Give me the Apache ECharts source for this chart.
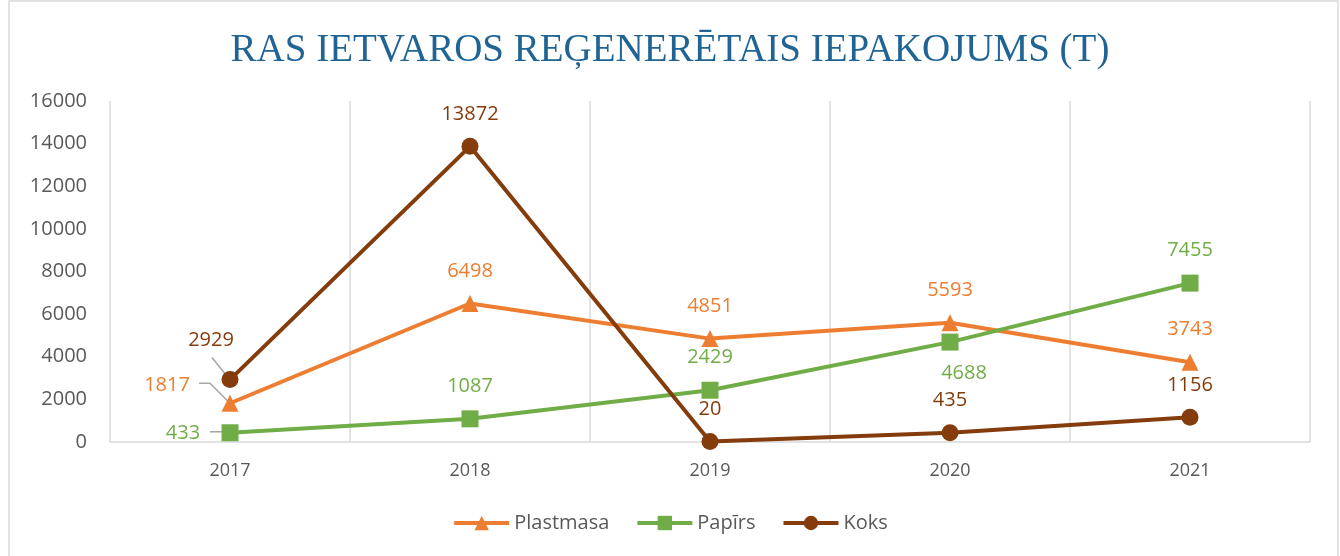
<!DOCTYPE html>
<html>
<head>
<meta charset="utf-8">
<style type="text/css">
    body { margin: 0; background: #fff; }
    #chart { width: 1340px; height: 556px; }
</style>
</head>
<body>
<div id="chart"></div>
<script src="https://cdn.jsdelivr.net/npm/echarts@6/dist/echarts.min.js"></script>
<script>

const years = ['2017', '2018', '2019', '2020', '2021'];
const plastmasa = [1817, 6498, 4851, 5593, 3743];
const papirs = [433, 1087, 2429, 4688, 7455];
const koks = [2929, 13872, 20, 435, 1156];
const yTicks = [0, 2000, 4000, 6000, 8000, 10000, 12000, 14000, 16000];

let chart = echarts.init(document.getElementById('chart'));

const font = 'Open Sans';
const grey = '#595959';

// label nudges for a few crowded points (by index)
const tweaks = {
    Plastmasa: {0: [-63, 15]},
    'Papīrs': {0: [-47, 33], 3: [14, 64]},
    Koks: {0: [-19, -7]}
};

function makeSeries(name, values, color, symbol) {
    let t = tweaks[name] || {};
    return {
        name: name,
        type: 'line',
        symbol: symbol,
        symbolSize: 17,
        z: 3,
        lineStyle: {color: color, width: 4},
        itemStyle: {color: color},
        emphasis: {disabled: true},
        label: {
            show: true,
            position: 'top',
            distance: 14,
            color: color,
            fontFamily: font,
            fontSize: 20
        },
        data: values.map((v, i) => t[i] ? {value: v, label: {offset: t[i]}} : v)
    };
}

let option = {
    animation: false,
    backgroundColor: '#fff',
    title: {
        text: 'RAS IETVAROS REĢENERĒTAIS IEPAKOJUMS (T)',
        left: 'center',
        top: 26,
        textStyle: {
            fontFamily: 'Liberation Serif',
            fontWeight: 'normal',
            fontSize: 39,
            color: '#1f6495'
        }
    },
    legend: {
        bottom: 18,
        left: 'center',
        itemWidth: 55,
        itemHeight: 18,
        itemGap: 26,
        lineStyle: {width: 4},
        textStyle: {fontFamily: font, fontSize: 20, color: grey}
    },
    grid: {left: 110, right: 30, top: 101, bottom: 114},
    xAxis: {
        type: 'category',
        data: years,
        boundaryGap: true,
        axisLine: {lineStyle: {color: '#d9d9d9', width: 1.5}},
        axisTick: {show: false},
        splitLine: {show: true, lineStyle: {color: '#d9d9d9', width: 1.5}},
        axisLabel: {margin: 20, fontFamily: font, fontSize: 18, color: grey}
    },
    yAxis: {
        type: 'value',
        min: yTicks[0],
        max: yTicks[yTicks.length - 1],
        interval: yTicks[1] - yTicks[0],
        axisLine: {show: false},
        axisTick: {show: false},
        splitLine: {show: false},
        axisLabel: {
            margin: 23, fontFamily: font, fontSize: 20, color: grey,
            formatter: v => String(v)
        }
    },
    series: [
        makeSeries('Plastmasa', plastmasa, '#ed7d31', 'triangle'),
        makeSeries('Papīrs', papirs, '#70ad47', 'rect'),
        makeSeries('Koks', koks, '#843c0c', 'circle')
    ]
};

chart.setOption(option);

// grey leader lines from the moved 2017 labels to their points
let leaders = [
    {value: koks[0], pts: [[-18, -22], [-2, -2]]},
    {value: plastmasa[0], pts: [[-31, -20], [-20, -20], [-1, -1]]},
    {value: papirs[0], pts: [[-20, -1], [-1, -1]]}
];
let graphics = [{
    type: 'rect',
    shape: {x: 9, y: 1, width: 1329, height: 570},
    style: {fill: 'none', stroke: '#d9d9d9', lineWidth: 1.5},
    silent: true
}];
leaders.forEach(l => {
    let p = chart.convertToPixel({gridIndex: 0}, [years[0], l.value]);
    graphics.push({
        type: 'polyline',
        z: 1,
        silent: true,
        shape: {points: l.pts.map(d => [p[0] + d[0], p[1] + d[1]])},
        style: {stroke: '#a6a6a6', lineWidth: 1.5, fill: 'none'}
    });
});
chart.setOption({graphic: graphics});

</script>
</body>
</html>
